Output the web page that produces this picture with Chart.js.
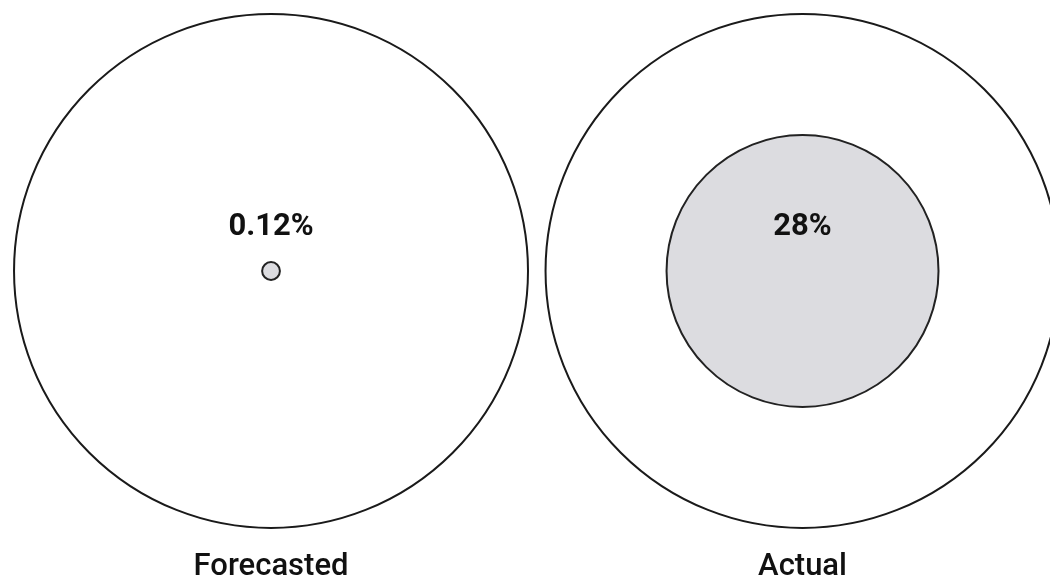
<!DOCTYPE html>
<html>
<head>
<meta charset="utf-8">
<script src="https://cdn.jsdelivr.net/npm/chart.js@4"></script>
<style>
  html, body { margin: 0; padding: 0; background: #ffffff; }
  #wrap { width: 1050px; height: 579px; position: relative; }
</style>
</head>
<body>
<div id="wrap"><canvas id="c"></canvas></div>
<script>
// ---- data ----
const categories = ['Forecasted', 'Actual'];
const percentLabels = ['0.12%', '28%'];
const innerPercent = [0.12, 28];      // share of the whole circle's area
const wholePercent = [100, 100];      // the whole (outer circle)

// outer circle radius in x-axis units (one unit = distance between the two circles)
const OUTER_R = 0.4835;

function radiusFromPercent(chart, pct) {
  const s = chart.scales.x;
  const rUnits = OUTER_R * Math.sqrt(pct / 100);
  return s.getPixelForValue(rUnits) - s.getPixelForValue(0);
}

const outerData = categories.map((c, i) => ({ x: i, y: 0, pct: wholePercent[i] }));
const innerData = categories.map((c, i) => ({ x: i, y: 0, pct: innerPercent[i] }));

const labelPlugin = {
  id: 'pctLabels',
  afterDatasetsDraw(chart) {
    const meta = chart.getDatasetMeta(0);
    const ctx = chart.ctx;
    ctx.save();
    ctx.font = 'bold 31px Roboto';
    ctx.fillStyle = '#111111';
    ctx.textAlign = 'center';
    ctx.textBaseline = 'alphabetic';
    meta.data.forEach((el, i) => {
      ctx.fillText(percentLabels[i], el.x, el.y - 36);
    });
    ctx.restore();
  }
};

new Chart(document.getElementById('c'), {
  type: 'scatter',
  data: {
    datasets: [
      {
        label: 'Share',
        data: innerData,
        order: 0,
        clip: false,
        backgroundColor: '#dcdce0',
        borderColor: '#222222',
        borderWidth: 2,
        pointRadius: ctx => radiusFromPercent(ctx.chart, ctx.raw.pct),
        pointHoverRadius: ctx => radiusFromPercent(ctx.chart, ctx.raw.pct)
      },
      {
        label: 'Whole',
        data: outerData,
        order: 1,
        clip: false,
        backgroundColor: '#ffffff',
        borderColor: '#1a1a1a',
        borderWidth: 2,
        pointRadius: ctx => radiusFromPercent(ctx.chart, ctx.raw.pct),
        pointHoverRadius: ctx => radiusFromPercent(ctx.chart, ctx.raw.pct)
      }
    ]
  },
  options: {
    responsive: true,
    maintainAspectRatio: false,
    animation: false,
    events: [],
    layout: { padding: 0 },
    plugins: {
      legend: { display: false },
      tooltip: { enabled: false }
    },
    scales: {
      x: {
        type: 'linear',
        min: -0.5099,
        max: 1.4656,
        border: { display: false },
        grid: { display: false, drawTicks: false },
        afterBuildTicks: s => { s.ticks = categories.map((c, i) => ({ value: i })); },
        afterFit: s => { s.height = 37; },
        ticks: {
          autoSkip: false,
          maxRotation: 0,
          padding: 7,
          color: '#111111',
          font: { family: 'Roboto', size: 31, weight: 500 },
          callback: (v) => categories[v]
        }
      },
      y: {
        display: false,
        min: -1,
        max: 1
      }
    }
  },
  plugins: [labelPlugin]
});
</script>
</body>
</html>
